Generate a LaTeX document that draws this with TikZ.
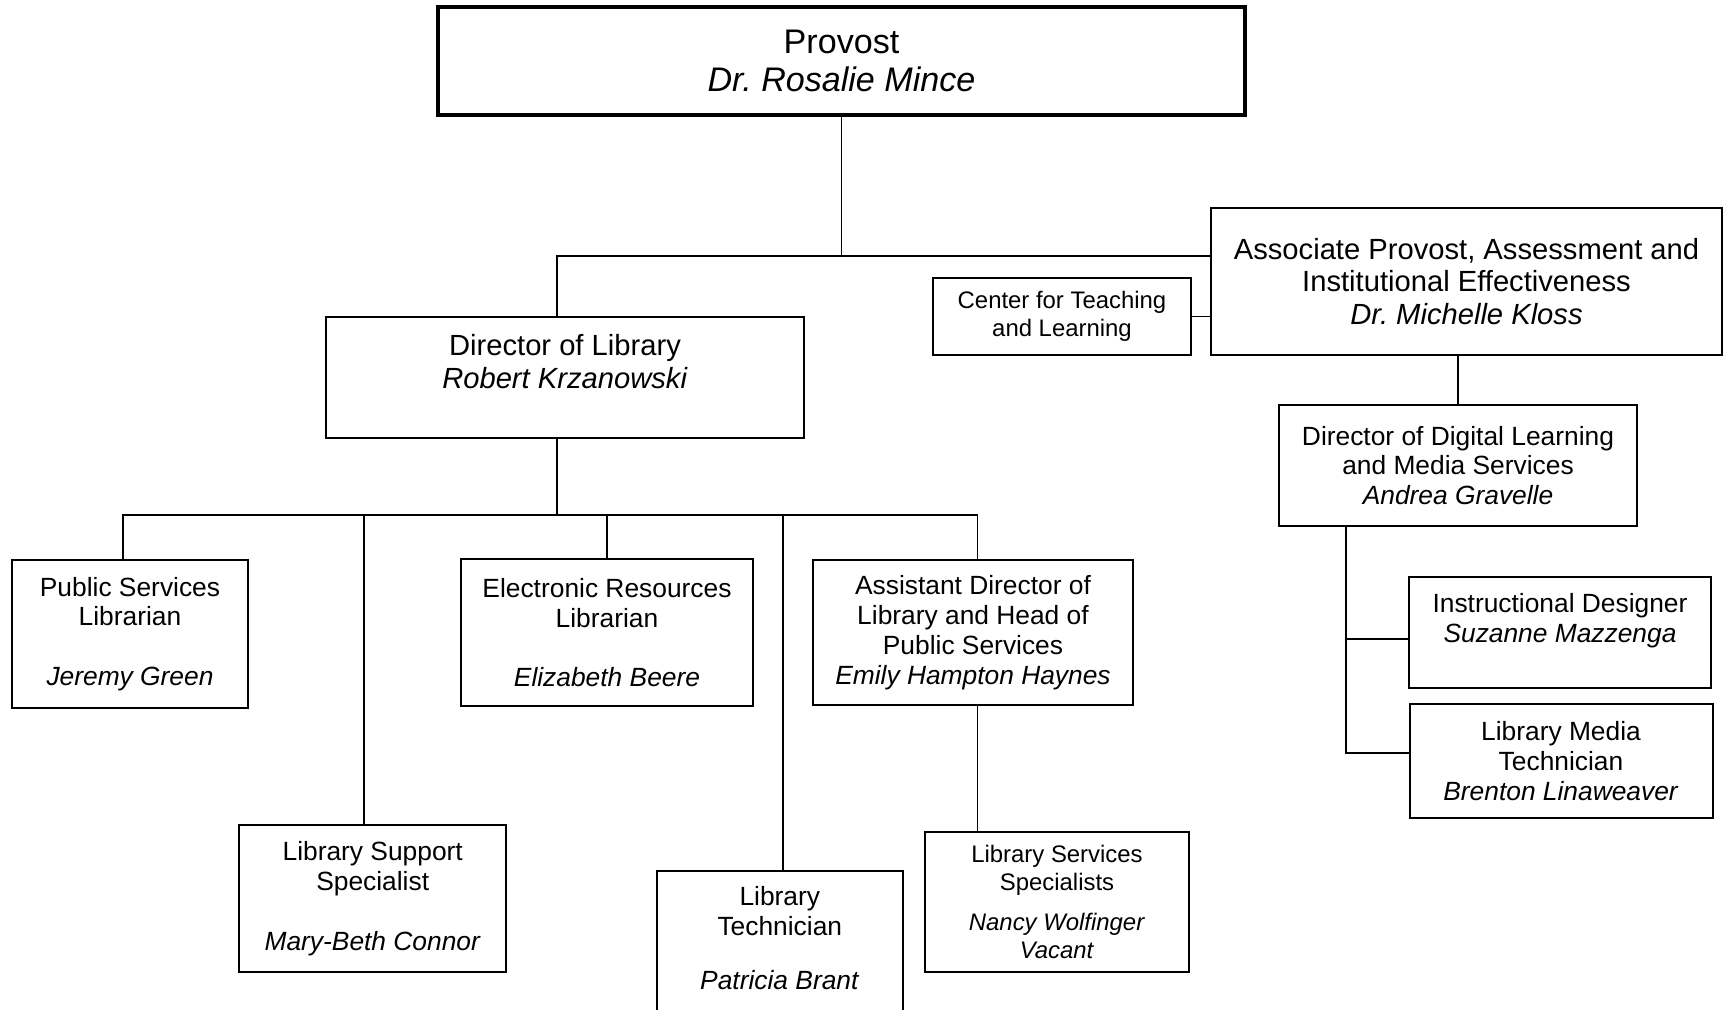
\documentclass[tikz,border=0pt]{standalone}
\usepackage{fontspec}
\setmainfont{Liberation Sans}
\frenchspacing
\begin{document}
\begin{tikzpicture}[
            box/.style = {draw, rectangle, align=center, inner sep=0pt, line width=0.57pt},
            std/.style = {font=\fontsize{7.5}{8.5}\selectfont},
            small/.style = {font=\fontsize{6.8}{7.9}\selectfont},
            big/.style = {font=\fontsize{8.3}{9.3}\selectfont},
            link/.style = {line width=0.4pt}]
            \useasboundingbox (0,0) rectangle (17.23,-10.09);

            \node[box, line width=1.14pt, font=\fontsize{9.7}{10.8}\selectfont,
                minimum width=8.07cm, minimum height=1.08cm] (provost) at (8.415,-0.61)
                {Provost\\\textit{Dr. Rosalie Mince}};
            \node[box, big, minimum width=5.11cm, minimum height=1.47cm] (ap) at (14.665,-2.815)
                {Associate Provost, Assessment and\\Institutional Effectiveness\\\textit{Dr. Michelle Kloss}};
            \node[box, small, minimum width=2.58cm, minimum height=0.77cm] (ctl) at (10.62,-3.165)
                {Center for Teaching\\and Learning};
            \node[box, big, minimum width=4.78cm, minimum height=1.21cm] (dirlib) at (5.65,-3.775)
                {Director of Library\\\textit{Robert Krzanowski}\\~};
            \node[box, std, minimum width=3.58cm, minimum height=1.21cm] (ddl) at (14.58,-4.655)
                {Director of Digital Learning\\and Media Services\\\textit{Andrea Gravelle}};

            \node[box, std, minimum width=2.36cm, minimum height=1.48cm] (psl) at (1.30,-6.34)
                {Public Services\\Librarian\\[8.5pt]\textit{Jeremy Green}};
            \node[box, std, minimum width=2.67cm, minimum height=1.47cm] (lss) at (3.727,-8.985)
                {Library Support\\Specialist\\[8.5pt]\textit{Mary-Beth Connor}};
            \node[box, std, minimum width=2.92cm, minimum height=1.47cm] (erl) at (6.07,-6.325)
                {Electronic Resources\\Librarian\\[8.5pt]\textit{Elizabeth Beere}};
            \node[box, std, anchor=north, minimum width=2.46cm, inner ysep=0.15cm] (ltech) at (7.798,-8.70)
                {Library\\Technician\\[7.1pt]\textit{Patricia Brant}\\~};
            \node[box, std, minimum width=3.20cm, minimum height=1.45cm] (asst) at (9.73,-6.325)
                {Assistant Director of\\Library and Head of\\Public Services\\\textit{Emily Hampton Haynes}};
            \node[box, small, minimum width=2.64cm, minimum height=1.40cm] (lsspec) at (10.57,-9.02)
                {Library Services\\Specialists\\[3.7pt]\textit{Nancy Wolfinger}\\\textit{Vacant}};

            \node[box, std, minimum width=3.02cm, minimum height=1.11cm] (id) at (15.60,-6.325)
                {Instructional Designer\\\textit{Suzanne Mazzenga}\\~};
            \node[box, std, minimum width=3.03cm, minimum height=1.14cm] (lmt) at (15.61,-7.61)
                {Library Media\\Technician\\\textit{Brenton Linaweaver}};

            \coordinate (topbus) at (provost.south |- 0,-2.56);
            \coordinate (dirin) at ([xshift=-0.08cm]dirlib.north);
            \coordinate (dirout) at ([xshift=-0.08cm]dirlib.south);
            \coordinate (lowbus) at (dirout |- 0,-5.15);
            \coordinate (pslin) at ([xshift=-0.07cm]psl.north);
            \coordinate (lssin) at ([xshift=-0.087cm]lss.north);
            \coordinate (ltechin) at ([xshift=0.03cm]ltech.north);
            \coordinate (asstin) at ([xshift=0.047cm]asst.north);
            \coordinate (asstout) at ([xshift=0.047cm]asst.south);
            \coordinate (ddlfoot) at ([xshift=-1.12cm]ddl.south);

            \draw[link] (provost.south) -- (topbus);
            \draw[link] (dirin) |- (topbus -| ap.west);
            \draw[link] (ctl.east) -- (ctl.east -| ap.west);
            \draw[link] (ap.south -| ddl.north) -- (ddl.north);
            \draw[link] (ddlfoot) |- ([yshift=0.08cm]lmt.west);
            \draw[link] ([yshift=-0.065cm]id.west) -| (ddlfoot);

            \draw[link] (dirout) -- (lowbus);
            \draw[link] (pslin) |- (asstin |- lowbus) -- (asstin);
            \draw[link] (lowbus -| lssin) -- (lssin);
            \draw[link] (lowbus -| erl.north) -- (erl.north);
            \draw[link] (lowbus -| ltechin) -- (ltechin);
            \draw[link] (asstout) -- (asstout |- lsspec.north);
        \end{tikzpicture}
\end{document}
